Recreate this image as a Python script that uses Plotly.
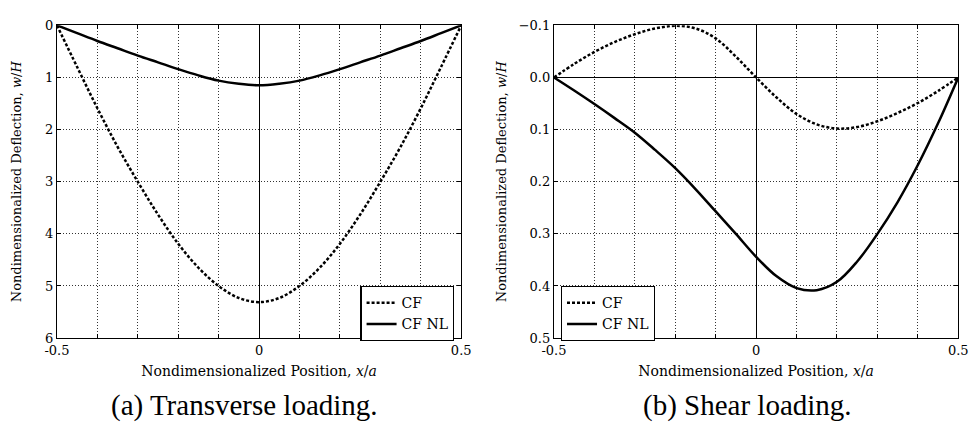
import plotly.graph_objects as go

# ---- data ----
x_pos = [-0.5, -0.45, -0.4, -0.35, -0.3, -0.25, -0.2, -0.15, -0.1, -0.05, 0.0,
         0.05, 0.1, 0.15, 0.2, 0.25, 0.3, 0.35, 0.4, 0.45, 0.5]

# (a) Transverse loading
a_cf = [0.0, 0.8, 1.59, 2.33, 3.0, 3.63, 4.19, 4.65, 5.0, 5.23, 5.31,
        5.23, 5.0, 4.65, 4.19, 3.63, 3.0, 2.33, 1.59, 0.8, 0.0]
a_cfnl = [0.0, 0.15, 0.30, 0.44, 0.58, 0.71, 0.84, 0.96, 1.06, 1.12, 1.15,
          1.12, 1.06, 0.96, 0.84, 0.71, 0.58, 0.44, 0.30, 0.15, 0.0]

# (b) Shear loading
b_cf = [0.0, -0.026, -0.049, -0.068, -0.083, -0.094, -0.099, -0.094, -0.075, -0.040, 0.0,
        0.038, 0.070, 0.090, 0.098, 0.095, 0.084, 0.068, 0.049, 0.026, 0.0]
b_cfnl = [0.0, 0.025, 0.051, 0.078, 0.106, 0.139, 0.174, 0.214, 0.257, 0.30, 0.344,
          0.381, 0.404, 0.408, 0.392, 0.353, 0.30, 0.239, 0.168, 0.088, 0.0]

x_tickvals = [-0.5, -0.4, -0.3, -0.2, -0.1, 0.0, 0.1, 0.2, 0.3, 0.4, 0.5]
x_ticktext = ["-0.5", "", "", "", "", "0", "", "", "", "", "0.5"]
a_ytickvals = [0, 1, 2, 3, 4, 5, 6]
a_yticktext = ["0", "1", "2", "3", "4", "5", "6"]
b_ytickvals = [-0.1, 0.0, 0.1, 0.2, 0.3, 0.4, 0.5]
b_yticktext = ["\u22120.1", "0.0", "0.1", "0.2", "0.3", "0.4", "0.5"]

captions = ["(a) Transverse loading.", "(b) Shear loading."]
x_title = "Nondimensionalized Position, <i>x</i>/<i>a</i>"
y_title = "Nondimensionalized Deflection, <i>w</i>/<i>H</i>"

FONT = "DejaVu Serif, Liberation Serif, serif"
CAP_FONT = "Liberation Serif, DejaVu Serif, serif"

fig = go.Figure()

def add_pair(xa, ya, cf, cfnl, legend):
    fig.add_trace(go.Scatter(x=x_pos, y=cf, mode="lines", name="CF",
                             line=dict(color="black", width=2.5, dash="3px,2px", shape="spline", smoothing=1.0),
                             xaxis=xa, yaxis=ya, legend=legend))
    fig.add_trace(go.Scatter(x=x_pos, y=cfnl, mode="lines", name="CF NL",
                             line=dict(color="black", width=2.5, shape="spline", smoothing=1.0),
                             xaxis=xa, yaxis=ya, legend=legend))

add_pair("x", "y", a_cf, a_cfnl, "legend")
add_pair("x2", "y2", b_cf, b_cfnl, "legend2")

ax_common = dict(showline=True, linecolor="black", linewidth=1.2, mirror="ticks",
                 ticks="inside", ticklen=4, tickcolor="black",
                 showgrid=True, gridcolor="#333", griddash="1px,2px", gridwidth=1,
                 tickfont=dict(family=FONT, size=13, color="black"))

xdom1 = [45/979, 459/979]
xdom2 = [554/979, 968/979]
ydom = [1-343/433, 1-19/433]

fig.update_layout(
    width=979, height=433,
    margin=dict(l=0, r=0, t=0, b=0),
    paper_bgcolor="white", plot_bgcolor="white",
    font=dict(family=FONT, color="black"),
    xaxis=dict(domain=xdom1, range=[-0.5, 0.5], tickvals=x_tickvals, ticktext=x_ticktext,
               zeroline=True, zerolinecolor="black", zerolinewidth=1, anchor="y",
               title=dict(text=x_title, font=dict(family=FONT, size=14), standoff=9), **ax_common),
    yaxis=dict(domain=ydom, range=[6, 0], tickvals=a_ytickvals, ticktext=a_yticktext,
               zeroline=False, anchor="x",
               title=dict(text=y_title, font=dict(family=FONT, size=13), standoff=20), **ax_common),
    xaxis2=dict(domain=xdom2, range=[-0.5, 0.5], tickvals=x_tickvals, ticktext=x_ticktext,
                zeroline=True, zerolinecolor="black", zerolinewidth=1, anchor="y2",
                title=dict(text=x_title, font=dict(family=FONT, size=14), standoff=9), **ax_common),
    yaxis2=dict(domain=ydom, range=[0.5, -0.1], tickvals=b_ytickvals, ticktext=b_yticktext,
                zeroline=True, zerolinecolor="black", zerolinewidth=1, anchor="x2",
                title=dict(text=y_title, font=dict(family=FONT, size=13), standoff=9), **ax_common),
    legend=dict(x=xdom1[1]-7/979, y=ydom[0]-3/433, xanchor="right", yanchor="bottom",
                bgcolor="white", bordercolor="black", borderwidth=1.2,
                font=dict(family=FONT, size=14, color="black"), tracegroupgap=0),
    legend2=dict(x=xdom2[0]+7/979, y=ydom[0]-3/433, xanchor="left", yanchor="bottom",
                 bgcolor="white", bordercolor="black", borderwidth=1.2,
                 font=dict(family=FONT, size=14, color="black"), tracegroupgap=0),
    showlegend=True,
)

fig.add_annotation(text=captions[0], x=237/979, y=1-413/433, xref="paper", yref="paper",
                   showarrow=False, font=dict(family=CAP_FONT, size=29, color="black"),
                   xanchor="center", yanchor="middle")
fig.add_annotation(text=captions[1], x=752/979, y=1-413/433, xref="paper", yref="paper",
                   showarrow=False, font=dict(family=CAP_FONT, size=29, color="black"),
                   xanchor="center", yanchor="middle")

fig.write_html("out.html")
